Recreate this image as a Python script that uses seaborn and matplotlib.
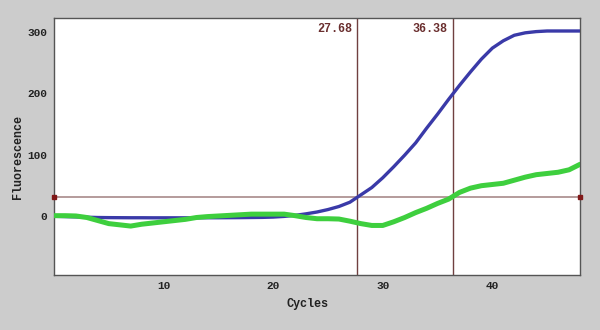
import numpy as np
import pandas as pd
import matplotlib
matplotlib.use("Agg")
import matplotlib.pyplot as plt
import seaborn as sns

# Amplification data, one value per cycle
cycles = list(range(0, 49))
sample_a = [-1, -1.5, -2, -2.5, -3, -3.2, -3.3, -3.4, -3.4, -3.5,
            -3.5, -3.5, -3.5, -3.5, -3.4, -3.4, -3.3, -3.2, -3.0, -2.8,
            -2.3, -1.2, 0.5, 3, 6, 10, 15, 22, 34, 46,
            62, 80, 99, 119, 143, 166, 190, 213, 235, 256,
            274, 286, 295, 299, 301, 302, 302, 302, 302]
sample_b = [0, 0, -0.5, -3, -8, -13, -15, -17, -14, -12,
            -10, -8, -6, -3, -1.5, -0.5, 0.5, 1.5, 2.5, 2.5,
            2.5, 2.5, 0, -3, -5, -5, -5.5, -9, -13, -16,
            -16, -10, -3, 5, 12, 20, 27, 38, 45, 49,
            51, 53, 58, 63, 67, 69, 71, 75, 84]
threshold = 30
ct_values = [27.68, 36.38]
ct_labels = ["27.68", "36.38"]

df = pd.DataFrame({
    "Cycles": cycles * 2,
    "Fluorescence": sample_a + sample_b,
    "sample": ["A"] * len(cycles) + ["B"] * len(cycles),
})

sns.set_theme(style="white")
plt.rcParams["font.family"] = ["Liberation Mono", "DejaVu Sans Mono"]
plt.rcParams["font.weight"] = "bold"

fig = plt.figure(figsize=(6, 3.3), dpi=100, facecolor="#cccccc")
ax = fig.add_axes([0.09, 0.1667, 0.8767, 0.7783])
ax.set_facecolor("white")

# Threshold line with end markers
ax.axhline(threshold, color="#a88a8a", lw=1.2, zorder=1)
ax.plot([0, 48], [threshold, threshold], ls="none", marker="s", ms=3.5,
        color="#801818", clip_on=False, zorder=5)

# Ct markers
for ct, lab in zip(ct_values, ct_labels):
    ax.axvline(ct, color="#704040", lw=1.0, zorder=1)
    ax.text(ct - 0.5, 305, lab, ha="right", va="center", fontsize=8.5,
            color="#6a2e2e", fontweight="bold")

sns.lineplot(data=df, x="Cycles", y="Fluorescence", hue="sample",
             palette={"A": "#3a3aa8", "B": "#3ecf3e"}, legend=False,
             ax=ax, zorder=3)
for ln in ax.get_lines():
    if ln.get_color() == "#3a3aa8":
        ln.set_linewidth(2.4)
    elif ln.get_color() == "#3ecf3e":
        ln.set_linewidth(3.6)

ax.set_xlim(0, 48)
ax.set_ylim(-97, 323)
ax.set_xticks([10, 20, 30, 40])
ax.set_xticks([5, 15, 25, 35], minor=True)
ax.set_yticks([0, 100, 200, 300])
ax.set_yticks([50, 150, 250], minor=True)
ax.tick_params(axis="both", which="both", labelsize=8, colors="#222222",
               width=0.8)
ax.tick_params(axis="y", which="major", direction="out", length=4, pad=1)
ax.tick_params(axis="y", which="minor", direction="out", length=3)
ax.tick_params(axis="x", which="major", direction="inout", length=5, pad=2)
ax.tick_params(axis="x", which="minor", direction="in", length=3)
for lab in ax.get_xticklabels() + ax.get_yticklabels():
    lab.set_fontweight("bold")

for sp in ax.spines.values():
    sp.set_color("#555555")
    sp.set_linewidth(1.0)

ax.set_xlabel("Cycles", fontsize=8.5, fontweight="bold", color="#222222")
ax.xaxis.label.set_va("center")
ax.xaxis.set_label_coords(0.482, -0.113)
ax.set_ylabel("Fluorescence", fontsize=8.5, fontweight="bold",
              color="#222222")
ax.yaxis.label.set_va("center")
ax.yaxis.set_label_coords(-0.068, 0.459)

fig.savefig("out.png", dpi=100, facecolor=fig.get_facecolor())
